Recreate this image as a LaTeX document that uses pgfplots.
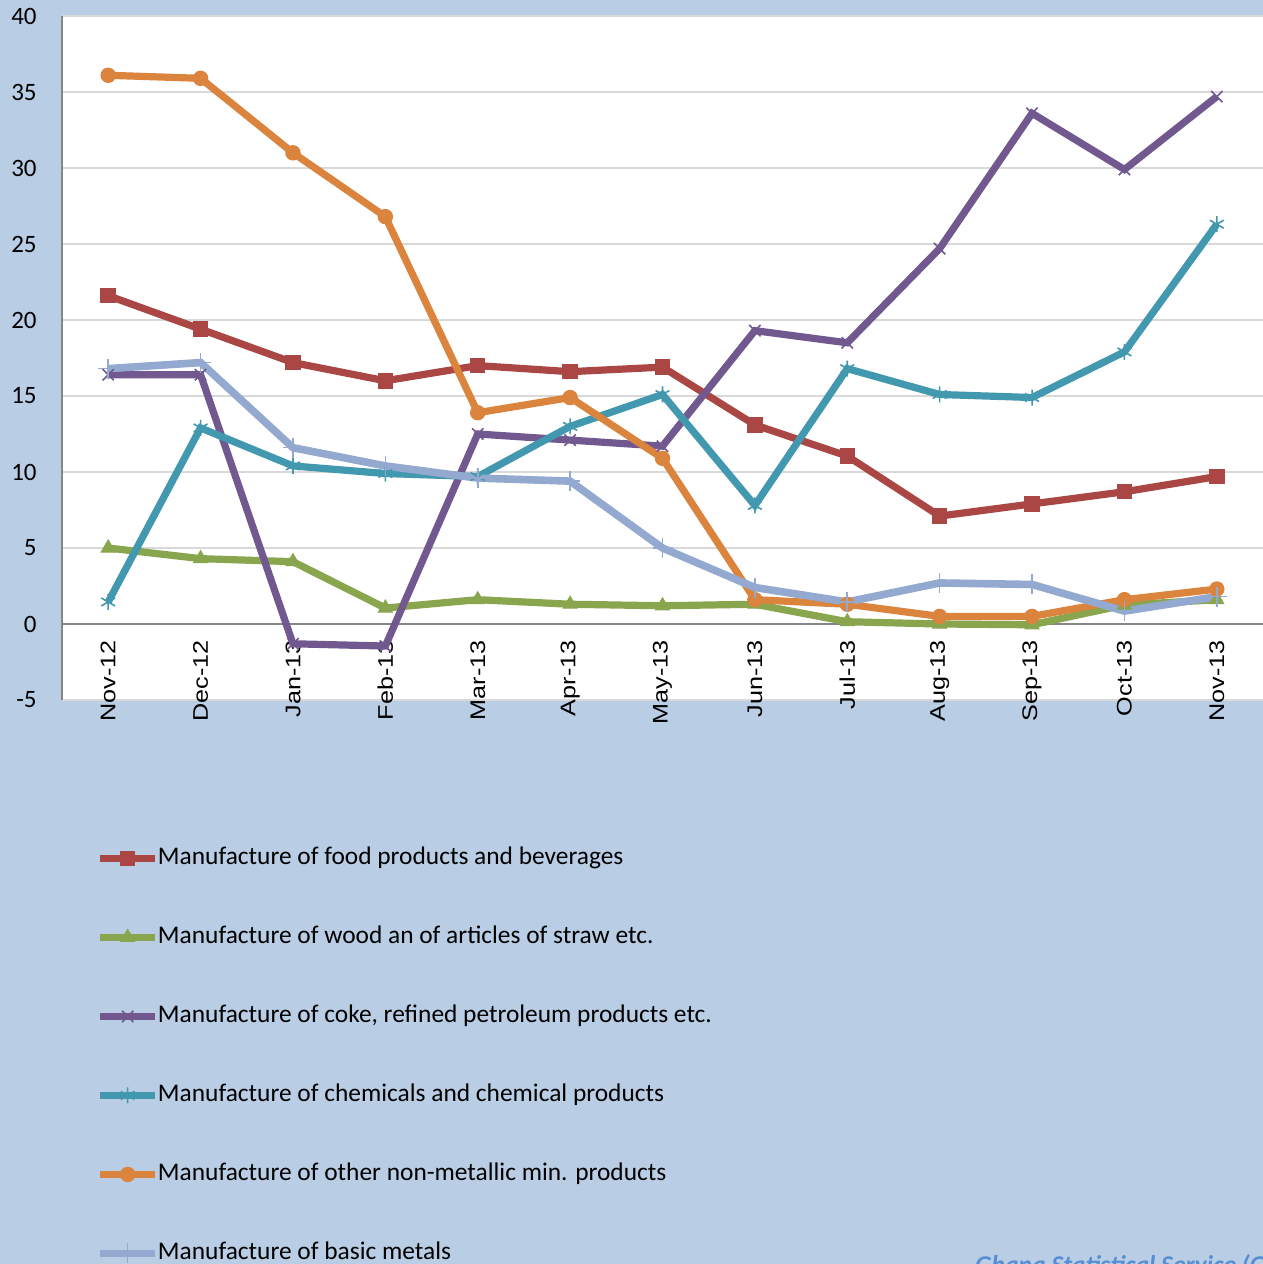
\documentclass[border=0pt]{standalone}
\usepackage{fontspec}
\setmainfont{Carlito}
\newfontfamily\tickfont{Liberation Sans}
\usepackage{graphicx}
\usepackage{pgfplots}
\pgfplotsset{compat=1.18}
\usetikzlibrary{backgrounds}

\definecolor{bgblue}{RGB}{185,205,229}
\definecolor{wmblue}{RGB}{85,142,213}
\definecolor{axgray}{RGB}{134,134,134}
\definecolor{gridgray}{RGB}{217,217,217}
\definecolor{cRed}{HTML}{AA4643}
\definecolor{cGreen}{HTML}{89A54E}
\definecolor{cPurple}{HTML}{71588F}
\definecolor{cTeal}{HTML}{4198AF}
\definecolor{cOrange}{HTML}{DB843D}
\definecolor{cLight}{HTML}{93A9CF}

\newcommand{\xl}[1]{\scalebox{1}[0.84]{#1}}

\begin{document}
\begin{tikzpicture}
\begin{axis}[
    name=ax,
    scale only axis,
    width=600.5bp, height=342bp,
    xmin=-0.5, xmax=12.5,
    ymin=-5, ymax=40,
    xtick={0,...,12},
    xticklabels={\xl{Nov-12},\xl{Dec-12},\xl{Jan-13},\xl{Feb-13},\xl{Mar-13},\xl{Apr-13},\xl{May-13},\xl{Jun-13},\xl{Jul-13},\xl{Aug-13},\xl{Sep-13},\xl{Oct-13},\xl{Nov-13}},
    ytick={-5,0,...,40},
    axis x line*=middle,
    axis y line*=left,
    hide obscured x ticks=false,
    hide obscured y ticks=false,
    axis line style={-},
    x axis line style={draw=axgray, line width=0.8bp},
    y axis line style={draw=axgray, line width=1bp},
    major tick length=0pt,
    ymajorgrids,
    grid style={draw=gridgray, line width=0.6bp},
    axis background/.style={fill=white},
    /pgf/number format/assume math mode=true,
    yticklabel style={font=\fontsize{12.5bp}{14bp}\selectfont, inner sep=0pt},
    yticklabel shift=12.5bp,
    xticklabel style={font=\tickfont\fontsize{12.6bp}{15bp}\selectfont, rotate=90, anchor=east, inner sep=0pt},
    xticklabel shift=8bp,
    legend cell align=left,
    legend style={at={(0.0283,-0.2135)}, anchor=north west, draw=none, fill=none,
        inner sep=0pt, row sep=27.5bp, column sep=-0.5bp,
        font=\fontsize{12.7bp}{15bp}\selectfont,
        nodes={inner sep=0pt, text height=9bp, text depth=3bp}},
    legend image code/.code={\draw[mark repeat=2, mark phase=2, #1]
        plot coordinates {(0bp,0bp) (13.75bp,0bp) (27.5bp,0bp)};},
]

\addplot[cRed, line width=3.6bp, mark=square*, mark size=3.6bp,
    mark options={fill=cRed, draw=cRed, line width=0.5bp}]
    coordinates {
    (0,21.6)(1,19.4)(2,17.2)(3,16.0)(4,17.0)(5,16.6)(6,16.9)
    (7,13.1)(8,11.05)(9,7.1)(10,7.9)(11,8.7)(12,9.7)
    };
\addlegendentry{Manufacture of food products and beverages}

\addplot[cGreen, line width=3.6bp, mark=triangle*, mark size=4bp,
    mark options={fill=cGreen, draw=cGreen, line width=0.5bp}]
    coordinates {
    (0,5.0)(1,4.3)(2,4.1)(3,1.05)(4,1.6)(5,1.3)(6,1.2)
    (7,1.3)(8,0.15)(9,0.0)(10,-0.05)(11,1.25)(12,1.6)
    };
\addlegendentry{Manufacture of wood an of articles of straw etc.}

\addplot[cPurple, line width=3.6bp, mark=x, mark size=4bp,
    mark options={draw=cPurple, line width=0.8bp}]
    coordinates {
    (0,16.4)(1,16.4)(2,-1.3)(3,-1.45)(4,12.5)(5,12.1)(6,11.7)
    (7,19.3)(8,18.5)(9,24.7)(10,33.6)(11,29.9)(12,34.7)
    };
\addlegendentry{Manufacture of coke, refined petroleum products etc.}

\addplot[cTeal, line width=3.6bp, mark=asterisk, mark size=4bp,
    mark options={draw=cTeal, line width=0.8bp}]
    coordinates {
    (0,1.45)(1,12.9)(2,10.4)(3,9.9)(4,9.7)(5,13.0)(6,15.1)
    (7,7.8)(8,16.8)(9,15.1)(10,14.9)(11,17.9)(12,26.3)
    };
\addlegendentry{Manufacture of chemicals and chemical products}

\addplot[cOrange, line width=3.6bp, mark=*, mark size=3.6bp,
    mark options={fill=cOrange, draw=cOrange, line width=0.5bp}]
    coordinates {
    (0,36.1)(1,35.9)(2,31.0)(3,26.8)(4,13.9)(5,14.9)(6,10.9)
    (7,1.6)(8,1.3)(9,0.5)(10,0.5)(11,1.6)(12,2.3)
    };
\addlegendentry{Manufacture of other non-metallic min. products}

\addplot[cLight, line width=3.8bp, mark=+, mark size=5bp,
    mark options={draw=cLight, line width=0.8bp}]
    coordinates {
    (0,16.8)(1,17.2)(2,11.6)(3,10.4)(4,9.6)(5,9.4)(6,5.0)
    (7,2.4)(8,1.45)(9,2.7)(10,2.6)(11,0.85)(12,1.8)
    };
\addlegendentry{Manufacture of basic metals}

\end{axis}

\node[anchor=base west, inner sep=0pt, text=wmblue,
    font=\bfseries\itshape\fontsize{12.8bp}{14bp}\selectfont]
    at ([xshift=456.5bp, yshift=-286.5bp]ax.south west) {Ghana Statistical Service (Ghana)};

\begin{scope}[on background layer]
\fill[bgblue] ([xshift=-31bp, yshift=-282bp]ax.south west) rectangle ([yshift=8bp]ax.north east);
\end{scope}
\pgfresetboundingbox
\path[use as bounding box] ([xshift=-31bp, yshift=-282bp]ax.south west) rectangle ([yshift=8bp]ax.north east);
\end{tikzpicture}
\end{document}
